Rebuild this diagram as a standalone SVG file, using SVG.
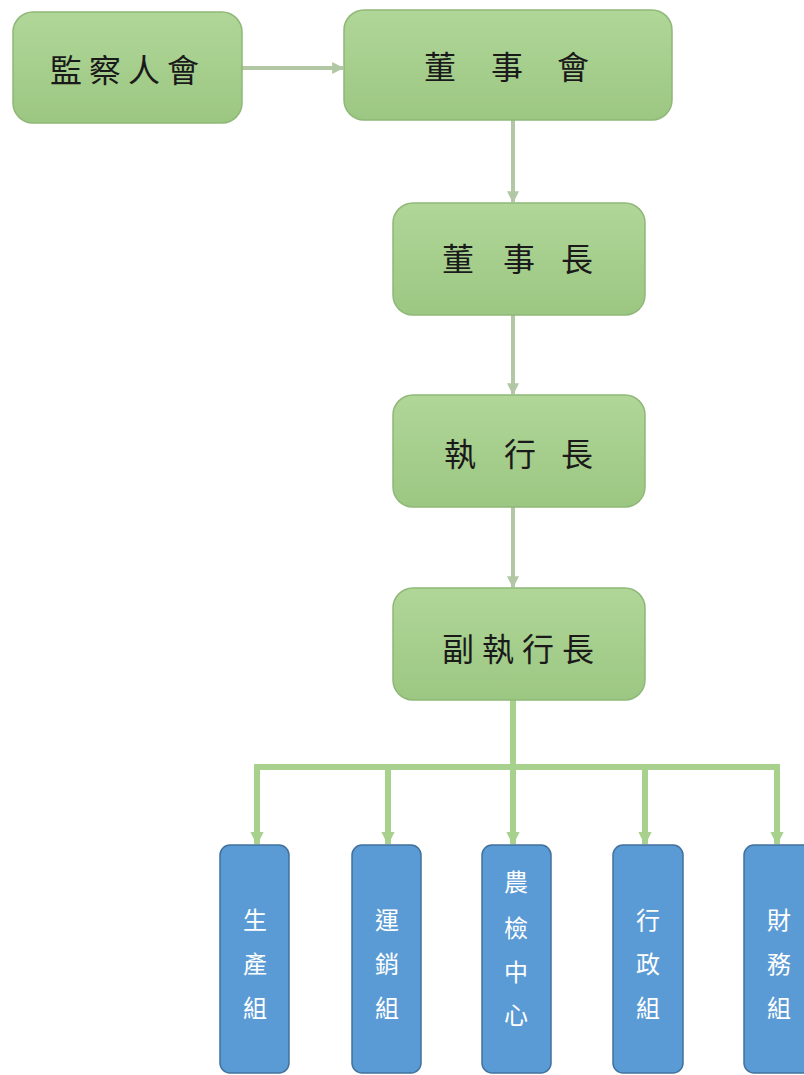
<svg xmlns="http://www.w3.org/2000/svg" width="804" height="1075" viewBox="0 0 804 1075">
<style>
.g{fill:url(#gg);stroke:#8fb878;stroke-width:1.5}
.b{fill:#5b9bd5;stroke:#41719c;stroke-width:1.5}
.gt{font-family:"Noto Sans CJK TC","Noto Sans CJK SC",serif;font-size:32px;fill:#1a1a1a;text-anchor:middle;dominant-baseline:central}
.bt{font-family:"Noto Sans CJK TC","Noto Sans CJK SC",serif;font-size:24px;fill:#ffffff;text-anchor:middle;dominant-baseline:central}
.c1{stroke:#b2c8a4;stroke-width:4;fill:none}
.c2{stroke:#a9d18e;stroke-width:6;fill:none}
</style>
<defs>
<linearGradient id="gg" x1="0" y1="0" x2="0" y2="1">
<stop offset="0" stop-color="#b0d698"/>
<stop offset="1" stop-color="#9cc782"/>
</linearGradient>
<marker id="a1" viewBox="0 0 10 10" refX="9" refY="5" markerWidth="3" markerHeight="3" orient="auto" markerUnits="strokeWidth">
<path d="M0,0 L10,5 L0,10 z" fill="#b2c8a4"/>
</marker>
<marker id="a2" viewBox="0 0 10 10" refX="9" refY="5" markerWidth="2.2" markerHeight="2.2" orient="auto" markerUnits="strokeWidth">
<path d="M0,0 L10,5 L0,10 z" fill="#a9d18e"/>
</marker>
</defs>
<rect width="804" height="1075" fill="#ffffff"/>
<g id="connectors">
<line class="c1" x1="242" y1="68" x2="343" y2="68" marker-end="url(#a1)"/>
<line class="c1" x1="513" y1="120" x2="513" y2="202" marker-end="url(#a1)"/>
<line class="c1" x1="513" y1="315" x2="513" y2="394" marker-end="url(#a1)"/>
<line class="c1" x1="513" y1="507" x2="513" y2="587" marker-end="url(#a1)"/>
<path class="c2" d="M513,700 V767 M257,767 H777"/>
<line class="c2" x1="257" y1="764" x2="257" y2="844" marker-end="url(#a2)"/>
<line class="c2" x1="388" y1="767" x2="388" y2="844" marker-end="url(#a2)"/>
<line class="c2" x1="513" y1="767" x2="513" y2="844" marker-end="url(#a2)"/>
<line class="c2" x1="645" y1="767" x2="645" y2="844" marker-end="url(#a2)"/>
<line class="c2" x1="777" y1="764" x2="777" y2="844" marker-end="url(#a2)"/>
</g>
<g id="n1"><rect class="g" x="13" y="12" width="229" height="111" rx="20"/><text class="gt" x="66 105 144 183" y="68">監察人會</text></g>
<g id="n2"><rect class="g" x="344" y="10" width="328" height="110" rx="20"/><text class="gt" x="440 474 507 540 573" y="65">董 事 會</text></g>
<g id="n3"><rect class="g" x="393" y="203" width="252" height="112" rx="20"/><text class="gt" x="458 489 519 548 577" y="257">董 事 長</text></g>
<g id="n4"><rect class="g" x="393" y="395" width="252" height="112" rx="20"/><text class="gt" x="460 490 520 548 577" y="452">執 行 長</text></g>
<g id="n5"><rect class="g" x="393" y="588" width="252" height="112" rx="20"/><text class="gt" x="458 498 538 578" y="647">副執行長</text></g>
<g id="n6"><rect class="b" x="220" y="845" width="69" height="228" rx="10"/><text class="bt" x="255 255 255" y="918 962 1006">生產組</text></g>
<g id="n7"><rect class="b" x="352" y="845" width="69" height="228" rx="10"/><text class="bt" x="387 387 387" y="918 962 1006">運銷組</text></g>
<g id="n8"><rect class="b" x="482" y="845" width="69" height="228" rx="10"/><text class="bt" x="516 516 516 516" y="880 926 970 1013">農檢中心</text></g>
<g id="n9"><rect class="b" x="613" y="845" width="70" height="228" rx="10"/><text class="bt" x="648 648 648" y="918 962 1006">行政組</text></g>
<g id="n10"><rect class="b" x="744" y="845" width="69" height="228" rx="10"/><text class="bt" x="779 779 779" y="918 962 1006">財務組</text></g>
</svg>
